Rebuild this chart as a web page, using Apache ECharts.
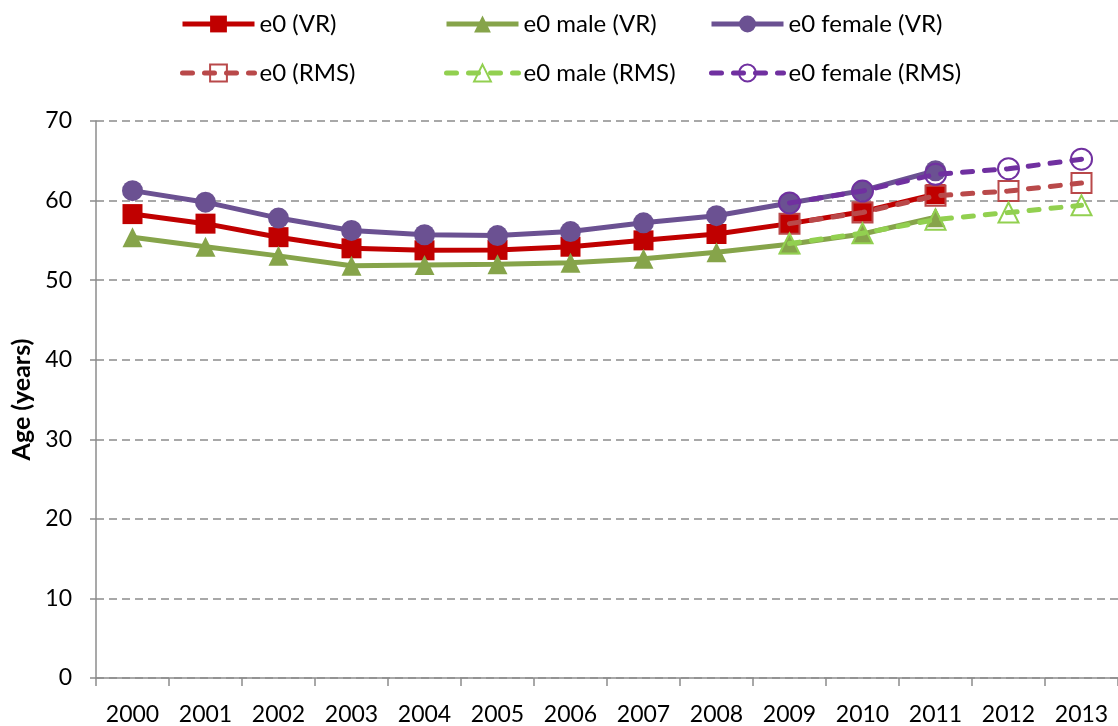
<!DOCTYPE html>
<html><head><meta charset="utf-8">
<script src="https://cdn.jsdelivr.net/npm/echarts@6/dist/echarts.min.js"></script>
<style>html,body{margin:0;padding:0;background:#fff}#c{width:1118px;height:726px}</style>
</head><body><div id="c"></div>
<script>
var years = ['2000','2001','2002','2003','2004','2005','2006','2007','2008','2009','2010','2011','2012','2013'];
var e0VR = [58.3, 57.1, 55.4, 54.0, 53.75, 53.8, 54.2, 55.0, 55.8, 57.1, 58.6, 60.8, null, null];
var maleVR = [55.4, 54.2, 53.05, 51.8, 51.9, 52.0, 52.2, 52.7, 53.5, 54.5, 55.8, 57.9, null, null];
var femaleVR = [61.25, 59.8, 57.8, 56.25, 55.7, 55.6, 56.1, 57.2, 58.1, 59.7, 61.25, 63.75, null, null];
var e0RMS = [null, null, null, null, null, null, null, null, null, 57.1, 58.5, 60.6, 61.2, 62.2];
var maleRMS = [null, null, null, null, null, null, null, null, null, 54.6, 55.9, 57.6, 58.5, 59.4];
var femaleRMS = [null, null, null, null, null, null, null, null, null, 59.7, 61.2, 63.3, 64.0, 65.2];
var yTicks = {min: 0, max: 70, interval: 10};

var FONT = 'Lato';
function vr(name, data, color, symbol, size) {
  return {name: name, type: 'line', data: data, symbol: symbol, symbolSize: size,
    lineStyle: {color: color, width: 5}, itemStyle: {color: color}, z: 2, animation: false};
}
function rms(name, data, color, symbol, size) {
  return {name: name, type: 'line', data: data, symbol: symbol, symbolSize: size,
    lineStyle: {color: color, width: 5, type: [10, 12], cap: 'round'},
    itemStyle: {color: 'rgba(255,255,255,0)', borderColor: color, borderWidth: 2}, z: 3, animation: false};
}
function leg(name, left, top) {
  return {data: [name], left: left, top: top, itemWidth: 72, itemHeight: 21, itemGap: 5,
    lineStyle: {width: 5},
    textStyle: {fontFamily: FONT, fontSize: 24, color: '#000'}, selectedMode: false};
}
var chart = echarts.init(document.getElementById('c'));
chart.setOption({
  backgroundColor: '#fff',
  animation: false,
  legend: [
    leg('e0 (VR)', 175, 7), leg('e0 male (VR)', 439, 7), leg('e0 female (VR)', 704, 7),
    leg('e0 (RMS)', 175, 56), leg('e0 male (RMS)', 439, 56), leg('e0 female (RMS)', 704, 56)
  ],
  grid: {left: 96, right: -7, top: 121, bottom: 46, containLabel: false},
  xAxis: {type: 'category', data: years, boundaryGap: true,
    axisLine: {lineStyle: {color: '#8c8c8c', width: 1.5}},
    axisTick: {show: true, length: 8, lineStyle: {color: '#8c8c8c', width: 1.5}},
    axisLabel: {fontFamily: FONT, fontSize: 23, color: '#000', margin: 25}},
  yAxis: {type: 'value', min: yTicks.min, max: yTicks.max, interval: yTicks.interval,
    name: 'Age (years)', nameLocation: 'middle', nameGap: 59,
    nameTextStyle: {fontFamily: FONT, fontSize: 25, fontWeight: 'bold', color: '#000'},
    axisLine: {show: true, lineStyle: {color: '#8c8c8c', width: 1.5}},
    axisTick: {show: true, length: 6, lineStyle: {color: '#8c8c8c', width: 1.5}},
    axisLabel: {fontFamily: FONT, fontSize: 23, color: '#000', margin: 24},
    splitLine: {lineStyle: {color: '#8c8c8c', width: 1.5, type: [8, 5]}}},
  series: [
    vr('e0 (VR)', e0VR, '#c00000', 'rect', 20),
    vr('e0 male (VR)', maleVR, '#86a44a', 'triangle', 20),
    vr('e0 female (VR)', femaleVR, '#6b5192', 'circle', 21),
    rms('e0 (RMS)', e0RMS, '#b9494a', 'rect', 20),
    rms('e0 male (RMS)', maleRMS, '#92d050', 'triangle', 20),
    rms('e0 female (RMS)', femaleRMS, '#7030a0', 'circle', 21)
  ]
});
</script></body></html>
